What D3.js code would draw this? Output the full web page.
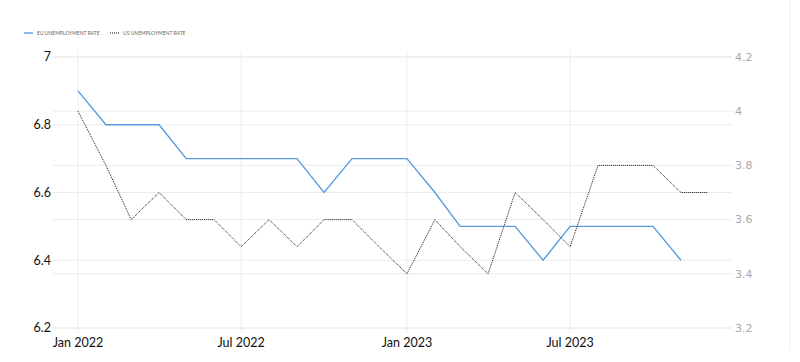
<!DOCTYPE html>
<html>
<head>
<meta charset="utf-8">
<script src="https://cdn.jsdelivr.net/npm/d3@7"></script>
<style>
  body { margin: 0; background: #fff; }
  svg { display: block; font-family: Lato, "Open Sans", sans-serif; }
</style>
</head>
<body>
<svg width="800" height="362"></svg>
<script>

// monthly, Jan 2022 onwards
var euMonths = ["2022-01","2022-02","2022-03","2022-04","2022-05","2022-06","2022-07","2022-08","2022-09","2022-10","2022-11","2022-12",
                "2023-01","2023-02","2023-03","2023-04","2023-05","2023-06","2023-07","2023-08","2023-09","2023-10","2023-11"];
var euRate = [6.9,6.8,6.8,6.8,6.7,6.7,6.7,6.7,6.7,6.6,6.7,6.7,
              6.7,6.6,6.5,6.5,6.5,6.4,6.5,6.5,6.5,6.5,6.4];

var usMonths = euMonths.concat(["2023-12"]);
var usRate = [4.0,3.8,3.6,3.7,3.6,3.6,3.5,3.6,3.5,3.6,3.6,3.5,
              3.4,3.6,3.5,3.4,3.7,3.6,3.5,3.8,3.8,3.8,3.7,3.7];

var leftTicks = [6.2, 6.4, 6.6, 6.8, 7];
var rightTicks = [3.2, 3.4, 3.6, 3.8, 4, 4.2];
var xTicks = ["2022-01","2022-07","2023-01","2023-07"];

var parse = d3.timeParse("%Y-%m");

function setupChart() {
  var svg = d3.select("svg"),
      width = +svg.attr("width"),
      height = +svg.attr("height");

  var gridLeft = 53, gridRight = 732, top = 57, bottom = 328;

  var x = d3.scaleTime()
      .domain([parse("2022-01"), parse("2023-12")])
      .range([78, 708]);

  var yL = d3.scaleLinear().domain([6.2, 7]).range([bottom, top]);
  var yR = d3.scaleLinear().domain([3.2, 4.2]).range([bottom, top]);

  // right border of the widget
  svg.append("line")
      .attr("x1", 790).attr("x2", 790).attr("y1", 0).attr("y2", 350)
      .attr("stroke", "#eee");

  // vertical grid
  svg.append("g").selectAll("line")
    .data(xTicks)
    .enter().append("line")
      .attr("x1", function(d) { return x(parse(d)); })
      .attr("x2", function(d) { return x(parse(d)); })
      .attr("y1", 50).attr("y2", 332)
      .attr("stroke", "#ededed");

  // horizontal grid, both axes
  svg.append("g").selectAll("line")
    .data(leftTicks)
    .enter().append("line")
      .attr("x1", gridLeft).attr("x2", gridRight)
      .attr("y1", function(d) { return yL(d); })
      .attr("y2", function(d) { return yL(d); })
      .attr("stroke", "#ececec");

  svg.append("g").selectAll("line")
    .data(rightTicks)
    .enter().append("line")
      .attr("x1", gridLeft).attr("x2", gridRight)
      .attr("y1", function(d) { return yR(d); })
      .attr("y2", function(d) { return yR(d); })
      .attr("stroke", "#ececec");

  // axis labels
  svg.append("g").selectAll("text")
    .data(leftTicks)
    .enter().append("text")
      .attr("x", 51)
      .attr("y", function(d) { return yL(d); })
      .attr("dy", "0.35em")
      .attr("text-anchor", "end")
      .attr("font-size", 12.5)
      .attr("fill", "#111")
      .text(function(d) { return d; });

  svg.append("g").selectAll("text")
    .data(rightTicks)
    .enter().append("text")
      .attr("x", 735)
      .attr("y", function(d) { return yR(d); })
      .attr("dy", "0.35em")
      .attr("font-family", "DejaVu Sans, sans-serif")
      .attr("font-size", 11)
      .attr("fill", "#aaa")
      .text(function(d) { return d; });

  svg.append("g").selectAll("text")
    .data(xTicks)
    .enter().append("text")
      .attr("x", function(d) { return x(parse(d)); })
      .attr("y", 347)
      .attr("text-anchor", "middle")
      .attr("font-size", 12.5)
      .attr("fill", "#111")
      .text(function(d) { return d3.timeFormat("%b %Y")(parse(d)); });

  // lines
  var euLine = d3.line()
      .x(function(d, i) { return x(parse(euMonths[i])); })
      .y(function(d) { return yL(d); });

  var usLine = d3.line()
      .x(function(d, i) { return x(parse(usMonths[i])); })
      .y(function(d) { return yR(d); });

  svg.append("path")
      .datum(euRate)
      .attr("d", euLine)
      .attr("fill", "none")
      .attr("stroke", "#5a9be0")
      .attr("stroke-width", 1.4);

  svg.append("path")
      .datum(usRate)
      .attr("d", usLine)
      .attr("fill", "none")
      .attr("stroke", "#111")
      .attr("stroke-width", 1)
      .attr("stroke-dasharray", "1,1");

  // legend
  var legend = svg.append("g").attr("font-size", 5).attr("fill", "#666");
  legend.append("line")
      .attr("x1", 24).attr("x2", 33).attr("y1", 33).attr("y2", 33)
      .attr("stroke", "#5a9be0").attr("stroke-width", 1.4);
  legend.append("text").attr("x", 37).attr("y", 34.8).text("EU UNEMPLOYMENT RATE");
  legend.append("line")
      .attr("x1", 110).attr("x2", 119).attr("y1", 33).attr("y2", 33)
      .attr("stroke", "#111").attr("stroke-dasharray", "1,1");
  legend.append("text").attr("x", 123).attr("y", 34.8).text("US UNEMPLOYMENT RATE");
}

setupChart();
</script>
</body>
</html>
